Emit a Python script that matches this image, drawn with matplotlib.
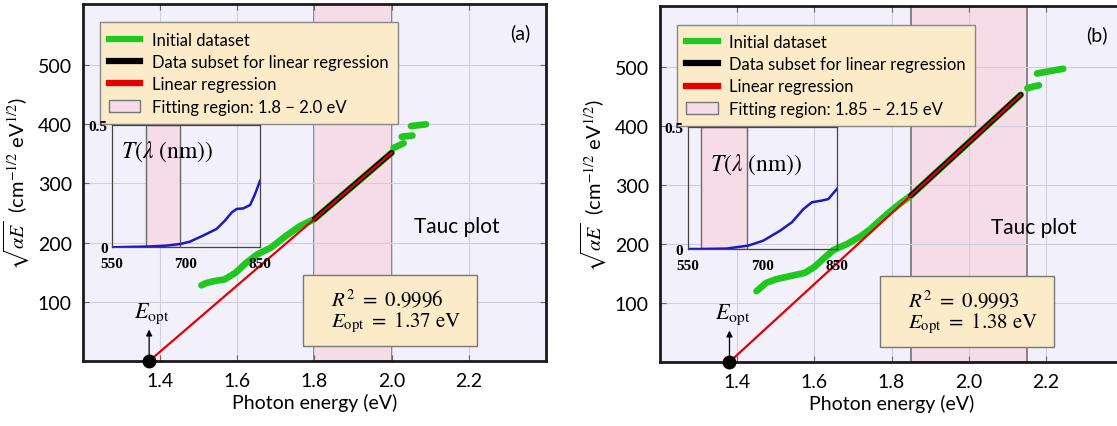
import numpy as np
import matplotlib.pyplot as plt
from matplotlib.lines import Line2D
from matplotlib.patches import Patch, Rectangle

plt.rcParams['font.family'] = ['Lato', 'DejaVu Sans']
plt.rcParams['mathtext.fontset'] = 'stix'

nan = np.nan

# ---- panel (a) ----
energy_a = [1.507, 1.52, 1.539, 1.567, 1.595, 1.623, 1.651, 1.688, 1.725, 1.762,
            1.80, 1.85, 1.90, 1.95, 2.00, nan, 2.005, 2.031, nan, 2.026, 2.054, nan, 2.05, 2.089]
tauc_a = [128, 132, 135, 138, 149, 166, 180, 192, 211, 228,
          240, 268, 296, 324, 352, nan, 360, 368, nan, 379, 381, nan, 397, 400]
fit_a = (1.8, 2.0)
r2_a = '0.9996'
wl_a = [550, 621, 661, 690, 708, 735, 762, 779, 793, 803, 816, 830, 840, 850]
trans_a = [0.0, 0.003, 0.007, 0.014, 0.023, 0.048, 0.075, 0.109, 0.143, 0.157, 0.159, 0.173, 0.218, 0.272]

# ---- panel (b) ----
energy_b = [1.450, 1.475, 1.50, 1.54, 1.575, 1.60, 1.625, 1.65, 1.685, 1.72, 1.745, 1.77, 1.80, 1.825,
            1.85, 1.90, 1.95, 2.00, 2.05, 2.10, 2.135, nan, 2.152, 2.168, 2.182, nan, 2.177, 2.21, 2.245]
tauc_b = [120, 134, 140, 146, 151, 161, 176, 190, 200, 213, 225, 240, 257, 270,
          282, 312, 342, 372, 402, 432, 453, nan, 464, 467, 469, nan, 489, 493, 497]
fit_b = (1.85, 2.15)
r2_b = '0.9993'
wl_b = [550, 575, 629, 672, 702, 736, 760, 783, 800, 820, 833, 850]
trans_b = [0.0, 0.0, 0.002, 0.014, 0.034, 0.075, 0.11, 0.164, 0.192, 0.199, 0.205, 0.246]

GREEN = '#1fc81f'
RED = '#e40000'
BLUE = '#1a1ac8'
PINK = '#f6dce7'
BEIGE = '#fcebc8'
BG = '#f1f0fb'


def draw_panel(fig, rect, inset_rect, E, Y, fit, wl, T, r2, tag, title_xy):
    E = np.array(E, dtype=float)
    Y = np.array(Y, dtype=float)
    lo, hi = fit
    ax = fig.add_axes(rect)
    ax.set_facecolor(BG)
    ax.set_xlim(1.2, 2.4)
    ax.set_ylim(0, 603)
    ax.set_axisbelow(True)
    ax.grid(color='#cfcfdd', lw=0.8)
    ax.axvspan(lo, hi, facecolor=PINK, edgecolor='#6a6a6a', lw=1.1, zorder=0.3)

    sel = (E >= lo) & (E <= hi)
    m, b = np.polyfit(E[sel], Y[sel], 1)
    e_opt = -b / m
    xs = np.array([e_opt, E[sel].max()])

    ax.plot(E, Y, color=GREEN, lw=4.8, solid_capstyle='round', zorder=3)
    ax.plot(E[sel], Y[sel], color='black', lw=3.8, solid_capstyle='round', zorder=4)
    ax.plot(xs, m * xs + b, color=RED, lw=1.6, zorder=5)

    ax.plot(e_opt, 0, 'o', color='black', ms=9, clip_on=False, zorder=10)
    ax.annotate('', xy=(e_opt, 58), xytext=(e_opt, 4),
                arrowprops=dict(arrowstyle='-|>', color='black', lw=0.9, mutation_scale=9))
    ax.text(e_opt + 0.008, 82, r'$E_{\mathrm{opt}}$', fontsize=16, ha='center', va='center')

    ax.add_patch(Rectangle((1.77, 25), 0.452, 120, facecolor=BEIGE, edgecolor='#777777',
                           lw=1, zorder=6))
    ax.text(1.842, 107, r'$R^2\ =\ %s$' % r2, fontsize=15, va='center', zorder=7)
    ax.text(1.842, 66, r'$E_{\mathrm{opt}}\ =\ %.2f\ \mathrm{eV}$' % e_opt, fontsize=15,
            va='center', zorder=7)

    ax.text(2.17, 228, 'Tauc plot', fontsize=15, ha='center', va='center')
    ax.text(2.333, 556, tag, fontsize=14, ha='center', va='center')

    ax.set_xticks([1.4, 1.6, 1.8, 2.0, 2.2])
    ax.set_yticks([100, 200, 300, 400, 500])
    ax.tick_params(direction='in', length=4, color='#666666', top=True, right=True,
                   labelsize=14, pad=8)
    for s in ax.spines.values():
        s.set_linewidth(2)
        s.set_color('#1a1a1a')
    ax.set_xlabel('Photon energy (eV)', fontsize=14, labelpad=3)
    ax.set_ylabel(r'$\sqrt{\alpha E}$  (cm$^{-1/2}$ eV$^{1/2}$)', fontsize=14.5, labelpad=5)

    handles = [Line2D([], [], color=GREEN, lw=4.5),
               Line2D([], [], color='black', lw=4.5),
               Line2D([], [], color=RED, lw=4.5),
               Patch(facecolor=PINK, edgecolor='#777777')]
    labels = ['Initial dataset', 'Data subset for linear regression', 'Linear regression',
              'Fitting region: %g \u2212 %g eV' % (lo, hi) if lo * 10 % 1 else
              'Fitting region: %.1f \u2212 %.1f eV' % (lo, hi)]
    leg = ax.legend(handles, labels, loc='upper left', bbox_to_anchor=(0.018, 0.972),
                    fontsize=12, frameon=True, fancybox=False, framealpha=1,
                    facecolor=BEIGE, edgecolor='#888888', handlelength=1.9,
                    handletextpad=0.7, labelspacing=0.38, borderpad=0.55)
    leg.get_frame().set_linewidth(1)
    leg.set_zorder(8)

    ins = fig.add_axes(inset_rect)
    ins.set_facecolor('none')
    ins.set_xlim(550, 850)
    ins.set_ylim(0, 0.5)
    ins.axvspan(1240 / hi, 1240 / lo, facecolor=PINK, edgecolor='#6a6a6a', lw=1)
    ins.plot(wl, T, color=BLUE, lw=1.8)
    ins.set_xticks([550, 700, 850])
    ins.set_yticks([0, 0.5])
    ins.set_yticklabels(['0', '0.5'])
    ins.tick_params(axis='x', length=0, pad=7)
    ins.tick_params(axis='y', length=0, pad=3)
    for lab in ins.get_xticklabels() + ins.get_yticklabels():
        lab.set_fontfamily('Liberation Serif')
        lab.set_fontweight('bold')
        lab.set_fontsize(11)
    for s in ins.spines.values():
        s.set_color('#444444')
        s.set_linewidth(0.9)
    ins.text(title_xy[0], title_xy[1], r'$T(\lambda\ (\mathrm{nm}))$', fontsize=17,
             transform=ins.transAxes, va='center')
    return ax


fig = plt.figure(figsize=(11.17, 4.27), dpi=100)
draw_panel(fig, [0.0743, 0.152, 0.4145, 0.836], [0.100, 0.4185, 0.1328, 0.2864],
           energy_a, tauc_a, fit_a, wl_a, trans_a, r2_a, '(a)', (0.06, 0.79))
draw_panel(fig, [0.5909, 0.150, 0.4145, 0.833], [0.6155, 0.4145, 0.1336, 0.285],
           energy_b, tauc_b, fit_b, wl_b, trans_b, r2_b, '(b)', (0.15, 0.70))
fig.savefig('out.png', dpi=100)
